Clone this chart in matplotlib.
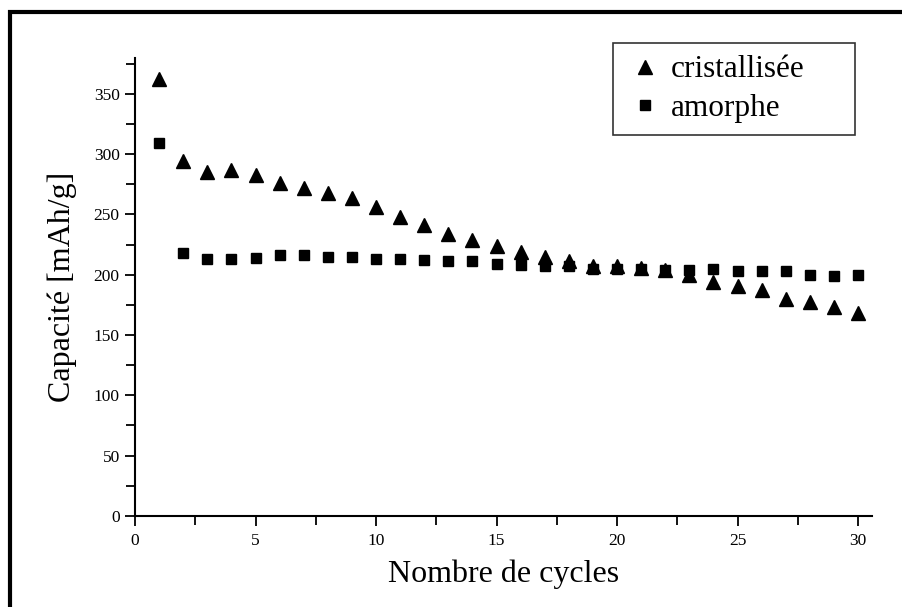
import matplotlib
matplotlib.use("Agg")
import matplotlib.pyplot as plt
from matplotlib.patches import Rectangle
from matplotlib.ticker import MultipleLocator

# cycle numbers and capacities (mAh/g)
cycles_crist = list(range(1, 31))
cap_crist = [362, 294, 285, 287, 283, 276, 272, 268, 264, 256,
             248, 241, 234, 229, 224, 219, 215, 211, 207, 207,
             206, 204, 200, 194, 191, 187, 180, 177, 173, 168]

cycles_amor = list(range(1, 31))
cap_amor = [309, 218, 213, 213, 214, 216, 216, 215, 215, 213,
            213, 212, 211, 211, 209, 208, 207, 207, 205, 205,
            205, 204, 204, 205, 203, 203, 203, 200, 199, 200]

plt.rcParams['font.family'] = ['Liberation Serif', 'DejaVu Serif']

fig = plt.figure(figsize=(9.03, 6.07), dpi=100)
ax = fig.add_axes([0.1495, 0.150, 0.8167, 0.755])

ax.plot(cycles_crist, cap_crist, linestyle='none', marker='^', markersize=10,
        color='black', label='cristallisée')
ax.plot(cycles_amor, cap_amor, linestyle='none', marker='s', markersize=7.5,
        color='black', label='amorphe')

ax.set_xlim(0, 30.6)
ax.set_ylim(0, 380)
ax.xaxis.set_major_locator(MultipleLocator(5))
ax.xaxis.set_minor_locator(MultipleLocator(2.5))
ax.yaxis.set_major_locator(MultipleLocator(50))
ax.yaxis.set_minor_locator(MultipleLocator(25))
ax.tick_params(which='both', direction='out', width=1.3, labelsize=12.5)
ax.tick_params(which='major', length=7)
ax.tick_params(which='minor', length=6.5)
ax.tick_params(axis='x', pad=5)
ax.tick_params(axis='y', pad=4)
for s in ['top', 'right']:
    ax.spines[s].set_visible(False)
for s in ['left', 'bottom']:
    ax.spines[s].set_linewidth(1.5)

ax.set_xlabel('Nombre de cycles', fontsize=23, labelpad=8)
ax.set_ylabel('Capacité [mAh/g]', fontsize=23, labelpad=12)

leg = ax.legend(loc='upper left', bbox_to_anchor=(0.6477, 0.825, 0.328, 0.207),
                mode='expand', borderaxespad=0, fontsize=22.5,
                frameon=True, fancybox=False, edgecolor='black',
                handletextpad=0.15, handlelength=1.3, borderpad=0.4,
                labelspacing=0.3)
leg.get_frame().set_linewidth(1.2)

# outer frame around the figure
fig.patches.append(Rectangle((0.0115, -0.1), 1.1, 1.0805, transform=fig.transFigure,
                             fill=False, edgecolor='black', linewidth=3))

fig.savefig('out.png', dpi=100)
